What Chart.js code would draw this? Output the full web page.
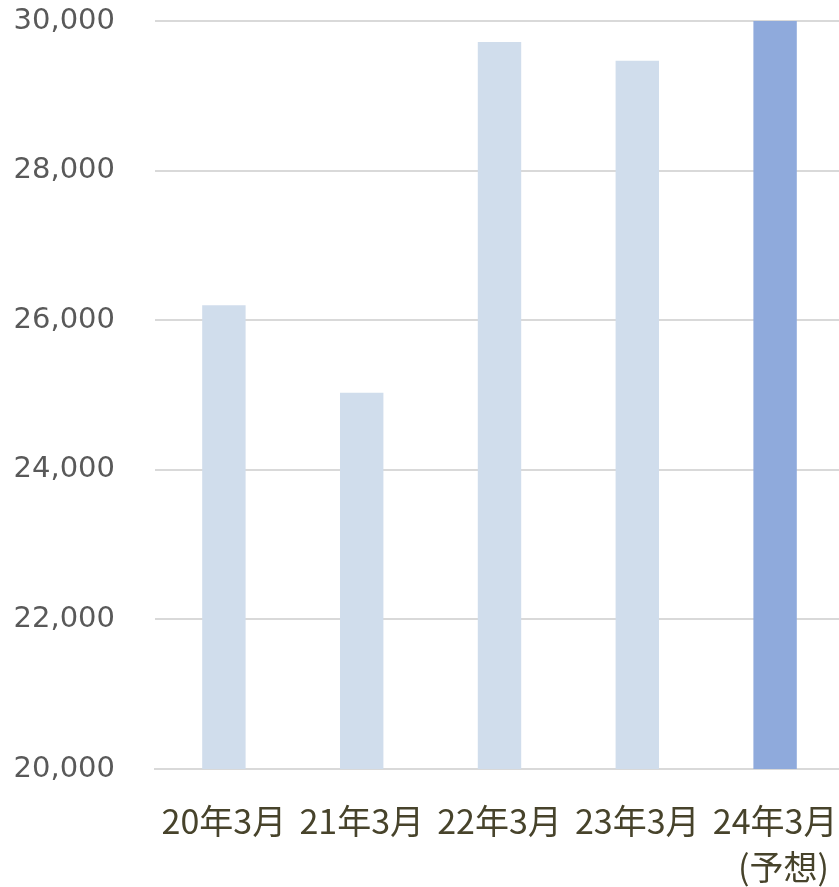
<!DOCTYPE html>
<html>
<head>
<meta charset="utf-8">
<script src="https://cdn.jsdelivr.net/npm/chart.js@4.4.0/dist/chart.umd.min.js"></script>
<style>
  html, body { margin: 0; padding: 0; background: #fff; overflow: hidden; }
  #wrap { width: 839px; height: 887px; overflow: hidden; }
</style>
</head>
<body>
<div id="wrap"><canvas id="barChart" width="845" height="887"></canvas></div>
<script>
// data
const labels = [
    '20年3月',
    '21年3月',
    '22年3月',
    '23年3月',
    ['24年3月', '\u2002(予想)']
];
const values = [26200, 25030, 29720, 29470, 30000];
const yTicks = [20000, 22000, 24000, 26000, 28000, 30000];

const lightClr = '#d0ddec';
const darkClr = '#8faadc';
const barColors = [lightClr, lightClr, lightClr, lightClr, darkClr];

// chart.js adds tick padding to the scale paddings (and doubles it in the size),
// so fix the box sizes here and let layout.padding do the rest
function noScalePadding(axis) {
    axis.paddingTop = 0;
    axis.paddingBottom = 0;
    axis.paddingLeft = 0;
    axis.paddingRight = 0;
}

const chartData = {
    labels: labels,
    datasets: [{
        data: values,
        backgroundColor: barColors,
        borderWidth: 0,
        categoryPercentage: 1,
        barPercentage: 0.315
    }]
};

const barConfig = {
    type: 'bar',
    data: chartData,
    options: {
        responsive: false,
        animation: false,
        layout: {
            padding: { top: 21, right: 1, bottom: 0, left: 15 }
        },
        scales: {
            y: {
                min: yTicks[0],
                max: yTicks[yTicks.length - 1],
                afterBuildTicks: function (axis) {
                    axis.ticks = yTicks.map(function (v) { return { value: v }; });
                },
                afterFit: function (axis) {
                    noScalePadding(axis);
                    axis.width = 140;
                },
                grid: {
                    color: '#d9d9d9',
                    lineWidth: 2,
                    drawTicks: false
                },
                border: { display: false },
                ticks: {
                    padding: 40,
                    color: '#595959',
                    font: { family: 'DejaVu Sans', size: 29 },
                    callback: function (v) { return v.toLocaleString('en-US'); }
                }
            },
            x: {
                afterFit: function (axis) {
                    noScalePadding(axis);
                    axis.height = 118;
                },
                grid: { display: false },
                border: { color: '#d9d9d9', width: 2 },
                ticks: {
                    padding: 21,
                    color: '#47432b',
                    maxRotation: 0,
                    autoSkip: false,
                    font: { family: 'Noto Sans CJK JP', size: 34, lineHeight: 1.35 }
                }
            }
        },
        plugins: {
            legend: { display: false },
            tooltip: { enabled: false }
        }
    }
};
new Chart(document.getElementById('barChart'), barConfig);
</script>
</body>
</html>
